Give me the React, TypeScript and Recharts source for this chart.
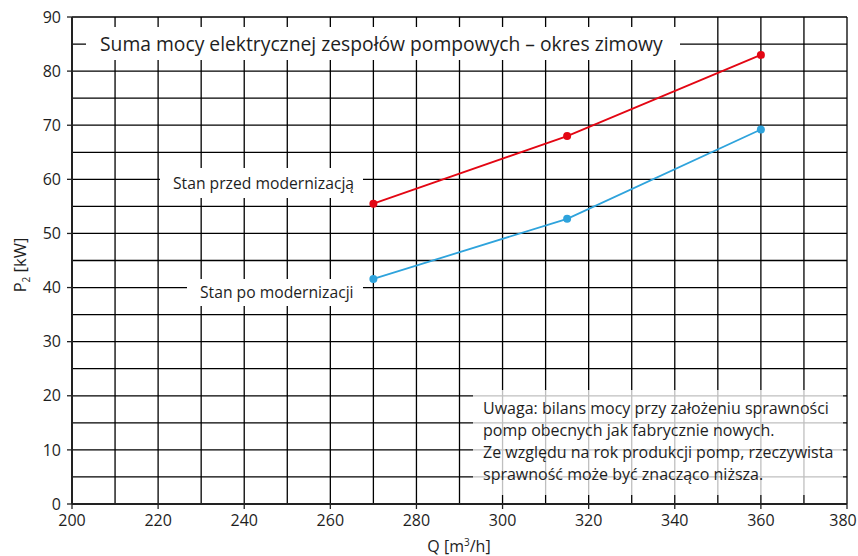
import React from 'react';
import { LineChart, Line, XAxis, YAxis, CartesianGrid } from 'recharts';

const flowQ = [270, 315, 360];
const stanPrzed = [55.5, 68.0, 83.0];
const stanPo = [41.6, 52.7, 69.2];
const xTicks = [200, 220, 240, 260, 280, 300, 320, 340, 360, 380];
const yTicks = [0, 10, 20, 30, 40, 50, 60, 70, 80, 90];
const gridX = [210, 220, 230, 240, 250, 260, 270, 280, 290, 300, 310, 320, 330, 340, 350, 360, 370, 380];
const gridY = [5, 10, 15, 20, 25, 30, 35, 40, 45, 50, 55, 60, 65, 70, 75, 80, 85, 90];

const title = 'Suma mocy elektrycznej zespołów pompowych – okres zimowy';
const labelPrzed = 'Stan przed modernizacją';
const labelPo = 'Stan po modernizacji';
const noteLines = [
  'Uwaga: bilans mocy przy założeniu sprawności',
  'pomp obecnych jak fabrycznie nowych.',
  'Ze względu na rok produkcji pomp, rzeczywista',
  'sprawność może być znacząco niższa.',
];

const data = flowQ.map((q, i) => ({ q, przed: stanPrzed[i], po: stanPo[i] }));

const FONT = '"Open Sans", "Noto Sans", sans-serif';
const TXT = '#1e1e1e';

const YLabel = () => (
  <text
    x={0}
    y={0}
    transform="translate(26,265) rotate(-90)"
    textAnchor="middle"
    fontFamily={FONT}
    fontSize={16.5}
    fill={TXT}
  >
    <tspan>P</tspan>
    <tspan fontSize={10} dy={4}>2</tspan>
    <tspan dy={-4}> [kW]</tspan>
  </text>
);

const XLabel = () => (
  <text x={459} y={552} textAnchor="middle" fontFamily={FONT} fontSize={16} fill={TXT}>
    <tspan>Q [m</tspan>
    <tspan fontSize={10} dy={-6}>3</tspan>
    <tspan dy={6}>/h]</tspan>
  </text>
);

const XTick = (props: any) => {
  const { x, y, payload } = props;
  const last = payload.value === xTicks[xTicks.length - 1];
  return (
    <text
      x={x + (last ? -3 : 0)}
      y={y}
      dy="0.71em"
      textAnchor="middle"
      fontFamily={FONT}
      fontSize={16}
      fill={TXT}
    >
      {payload.value}
    </text>
  );
};

const box = (extra: React.CSSProperties): React.CSSProperties => ({
  position: 'absolute',
  background: '#fff',
  fontFamily: FONT,
  color: TXT,
  whiteSpace: 'nowrap',
  boxSizing: 'border-box',
  ...extra,
});

export default function App() {
  return (
    <div style={{ position: 'fixed', left: 0, top: 0, width: 858, height: 556, background: '#fff' }}>
      <LineChart width={858} height={556} data={data} margin={{ top: 17, right: 11, bottom: 0, left: 0 }}>
        <CartesianGrid
          stroke="#000"
          strokeWidth={1.3}
          horizontalValues={gridY}
          verticalValues={gridX}
          strokeDasharray=""
        />
        <XAxis
          dataKey="q"
          type="number"
          domain={[200, 380]}
          ticks={xTicks}
          height={52}
          tickSize={5}
          tickMargin={6}
          axisLine={{ stroke: '#222', strokeWidth: 2 }}
          tickLine={{ stroke: '#222', strokeWidth: 1.3 }}
          tick={<XTick />}
          label={<XLabel />}
        />
        <YAxis
          type="number"
          domain={[0, 90]}
          ticks={yTicks}
          width={72}
          tickSize={5}
          tickMargin={6}
          axisLine={{ stroke: '#222', strokeWidth: 2 }}
          tickLine={{ stroke: '#222', strokeWidth: 1.3 }}
          tick={{ fill: TXT, fontSize: 16, fontFamily: FONT }}
          label={<YLabel />}
        />
        <Line
          dataKey="przed"
          stroke="#e30613"
          strokeWidth={1.8}
          dot={{ r: 4, fill: '#e30613', stroke: '#e30613', strokeWidth: 0 }}
          isAnimationActive={false}
        />
        <Line
          dataKey="po"
          stroke="#2ea3dc"
          strokeWidth={1.8}
          dot={{ r: 4, fill: '#2ea3dc', stroke: '#2ea3dc', strokeWidth: 0 }}
          isAnimationActive={false}
        />
      </LineChart>
      <div style={box({ left: 86, top: 27, width: 594, height: 33, fontSize: 19.3, lineHeight: '33px', paddingLeft: 14 })}>
        {title}
      </div>
      <div style={box({ left: 160, top: 168, width: 203, height: 30, fontSize: 15.7, lineHeight: '30px', paddingLeft: 13 })}>
        {labelPrzed}
      </div>
      <div style={box({ left: 187, top: 279, width: 176, height: 27, fontSize: 15.7, lineHeight: '27px', paddingLeft: 13 })}>
        {labelPo}
      </div>
      <div
        style={box({
          left: 473,
          top: 390,
          width: 370,
          height: 105,
          fontSize: 16,
          lineHeight: '22px',
          paddingLeft: 10,
          paddingTop: 7,
          background: 'rgba(255,255,255,0.75)',
        })}
      >
        {noteLines.map((l, i) => (
          <div key={i}>{l}</div>
        ))}
      </div>
    </div>
  );
}
